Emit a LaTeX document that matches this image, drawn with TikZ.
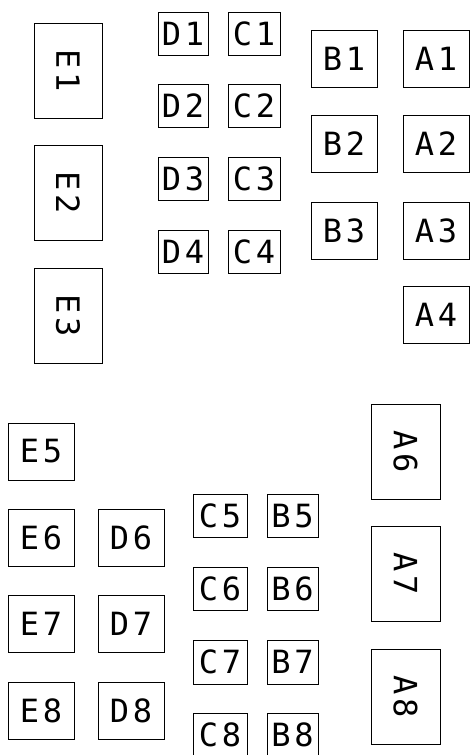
\documentclass[tikz,border=0pt]{standalone}
\usepackage{fontspec}
\newfontfamily\labfont[LetterSpace=12]{DejaVu Sans Mono}
\begin{document}
\begin{tikzpicture}[x=1pt,y=-1pt,
  bx/.style={draw,line width=1pt,inner sep=0pt,font=\labfont\fontsize{32}{32}\selectfont},
  sq/.style={bx,minimum width=50pt,minimum height=43pt},
  md/.style={bx,minimum width=66pt,minimum height=57pt},
  tl/.style={bx,minimum width=68pt,minimum height=95pt}]
\useasboundingbox (0,0) rectangle (475,755);
% E column top (rotated)
\node[tl] (E1) at (68,71) {\rotatebox{-90}{E1}};
\node[tl] (E2) at (68,193) {\rotatebox{-90}{E2}};
\node[tl] (E3) at (68,316) {\rotatebox{-90}{E3}};
% D and C top
\node[sq] (D1) at (183,33.5) {D1};
\node[sq,minimum width=52pt] (C1) at (254,33.5) {C1};
\node[sq] (D2) at (183,106) {D2};
\node[sq,minimum width=52pt] (C2) at (254,106) {C2};
\node[sq] (D3) at (183,178.5) {D3};
\node[sq,minimum width=52pt] (C3) at (254,178.5) {C3};
\node[sq] (D4) at (183,252) {D4};
\node[sq,minimum width=52pt] (C4) at (254,252) {C4};
% B and A top
\node[md] (B1) at (344,58.5) {B1};
\node[md] (A1) at (436,58.5) {A1};
\node[md] (B2) at (344,144) {B2};
\node[md] (A2) at (436,144) {A2};
\node[md] (B3) at (344,230.5) {B3};
\node[md] (A3) at (436,230.5) {A3};
\node[md] (A4) at (436,315) {A4};
% E and D bottom
\node[md] (E5) at (41,451.5) {E5};
\node[md] (E6) at (41,538) {E6};
\node[md] (D6) at (131,538) {D6};
\node[md] (E7) at (41,624) {E7};
\node[md] (D7) at (131,624) {D7};
\node[md] (E8) at (41,711) {E8};
\node[md] (D8) at (131,711) {D8};
% C and B bottom
\node[sq,minimum width=54pt] (C5) at (220,516) {C5};
\node[sq,minimum width=51pt] (B5) at (292.5,516) {B5};
\node[sq,minimum width=54pt] (C6) at (220,589) {C6};
\node[sq,minimum width=51pt] (B6) at (292.5,589) {B6};
\node[sq,minimum width=54pt,minimum height=44pt] (C7) at (220,662) {C7};
\node[sq,minimum width=51pt,minimum height=44pt] (B7) at (292.5,662) {B7};
\node[sq,minimum width=54pt] (C8) at (220,734.5) {C8};
\node[sq,minimum width=51pt] (B8) at (292.5,734.5) {B8};
% A bottom (rotated)
\node[tl,minimum width=69pt] (A6) at (405.5,452) {\rotatebox{-90}{A6}};
\node[tl,minimum width=69pt] (A7) at (405.5,574) {\rotatebox{-90}{A7}};
\node[tl,minimum width=69pt] (A8) at (405.5,697) {\rotatebox{-90}{A8}};
\end{tikzpicture}
\end{document}
